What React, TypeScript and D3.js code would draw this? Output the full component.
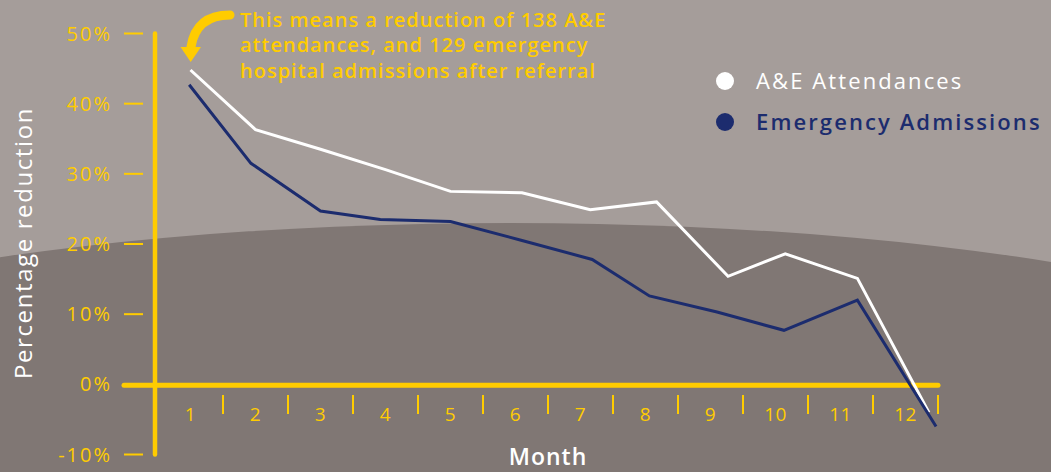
import React, { useEffect, useRef } from 'react';
import * as d3 from 'd3';

// months 1..12 on the x axis
const months = ['1', '2', '3', '4', '5', '6', '7', '8', '9', '10', '11', '12'];
const yTicks = [50, 40, 30, 20, 10, 0, -10];

// where each point sits along the month axis (points are not exactly centred)
const aeMonthPos = [1, 2, 3, 4, 5, 6.1, 7.15, 8.17, 9.27, 10.15, 11.26, 12.36];
const eaMonthPos = [0.98, 1.93, 3.0, 3.92, 5.0, 6.1, 7.18, 8.06, 9.1, 10.13, 11.26, 12.47];

// percentage reduction
const aeValues = [44.8, 36.3, 33.5, 30.6, 27.5, 27.3, 24.9, 26.0, 15.4, 18.6, 15.1, -4.0];
const eaValues = [42.7, 31.5, 24.7, 23.5, 23.2, 20.5, 17.8, 12.6, 10.3, 7.7, 12.0, -6.0];

const annotationLines = [
  'This means a reduction of 138 A&E',
  'attendances, and 129 emergency',
  'hospital admissions after referral',
];

const W = 1051;
const H = 472;
const YELLOW = '#FFCC00';
const NAVY = '#1C2C6E';
const BG_TOP = '#A59D9A';
const BG_BOTTOM = '#807774';
const FONT = '"Open Sans", "DejaVu Sans", sans-serif';

const App: React.FC = () => {
  const svgRef = useRef<SVGSVGElement>(null);

  useEffect(() => {
    document.body.style.margin = '0';
    if (!svgRef.current) return;

    const svg = d3.select(svgRef.current);
    svg.selectAll('*').remove();

    // background: light top, darker dome shape below
    svg.append('rect').attr('width', W).attr('height', H).attr('fill', BG_TOP);
    svg.append('ellipse')
      .attr('cx', 510).attr('cy', 417).attr('rx', 900).attr('ry', 194)
      .attr('fill', BG_BOTTOM);
    svg.append('rect').attr('x', 0).attr('y', 417).attr('width', W).attr('height', H - 417)
      .attr('fill', BG_BOTTOM);

    const band = d3.scaleBand().domain(months).range([158, 938]);
    const x = d3.scaleLinear().domain([1, 12]).range([
      (band('1') ?? 0) + band.bandwidth() / 2,
      (band('12') ?? 0) + band.bandwidth() / 2,
    ]);
    const y = d3.scaleLinear().domain([-10, 50]).range([454.5, 33.5]);

    const g = svg.append('g');

    // y tick dashes + labels
    yTicks.forEach(t => {
      if (t !== 0) {
        g.append('line')
          .attr('x1', 124).attr('x2', 143)
          .attr('y1', y(t)).attr('y2', y(t))
          .attr('stroke', YELLOW).attr('stroke-width', 2);
      }
      g.append('text')
        .attr('x', 112).attr('y', y(t))
        .attr('dy', '0.35em')
        .attr('text-anchor', 'end')
        .attr('fill', YELLOW)
        .attr('font-family', FONT)
        .attr('font-size', 20)
        .attr('letter-spacing', 2)
        .text(`${t}%`);
    });

    // axes
    g.append('line')
      .attr('x1', 155).attr('x2', 155)
      .attr('y1', y(50)).attr('y2', y(-10))
      .attr('stroke', YELLOW).attr('stroke-width', 4.5).attr('stroke-linecap', 'round');
    g.append('line')
      .attr('x1', 124).attr('x2', 938)
      .attr('y1', y(0) + 1).attr('y2', y(0) + 1)
      .attr('stroke', YELLOW).attr('stroke-width', 5).attr('stroke-linecap', 'round');

    // month separators + labels
    months.forEach(m => {
      const x0 = band(m) ?? 0;
      g.append('line')
        .attr('x1', x0 + band.bandwidth()).attr('x2', x0 + band.bandwidth())
        .attr('y1', 395).attr('y2', 414)
        .attr('stroke', YELLOW).attr('stroke-width', 2);
      g.append('text')
        .attr('x', x0 + band.bandwidth() / 2).attr('y', 421)
        .attr('text-anchor', 'middle')
        .attr('fill', YELLOW)
        .attr('font-family', FONT)
        .attr('font-size', 19)
        .attr('letter-spacing', 0.5)
        .text(m);
    });

    // series lines
    const line = d3.line<[number, number]>().x(d => x(d[0])).y(d => y(d[1]));
    const aePts = aeValues.map((v, i) => [aeMonthPos[i], v] as [number, number]);
    const eaPts = eaValues.map((v, i) => [eaMonthPos[i], v] as [number, number]);

    g.append('path')
      .attr('d', line(aePts))
      .attr('fill', 'none').attr('stroke', '#FFFFFF').attr('stroke-width', 3);
    g.append('path')
      .attr('d', line(eaPts))
      .attr('fill', 'none').attr('stroke', NAVY).attr('stroke-width', 3);

    // axis titles
    g.append('text')
      .attr('transform', 'translate(32,243) rotate(-90)')
      .attr('text-anchor', 'middle')
      .attr('fill', '#FFFFFF')
      .attr('font-family', FONT)
      .attr('font-size', 24)
      .attr('letter-spacing', 1.6)
      .text('Percentage reduction');
    g.append('text')
      .attr('x', 548).attr('y', 465)
      .attr('text-anchor', 'middle')
      .attr('fill', '#FFFFFF')
      .attr('font-family', FONT)
      .attr('font-size', 23)
      .attr('font-weight', 600)
      .attr('letter-spacing', 1)
      .text('Month');

    // legend
    const legend = [
      { label: 'A&E Attendances', color: '#FFFFFF', cy: 81, weight: 400 },
      { label: 'Emergency Admissions', color: NAVY, cy: 122, weight: 600 },
    ];
    legend.forEach(l => {
      g.append('circle').attr('cx', 725).attr('cy', l.cy).attr('r', 9).attr('fill', l.color);
      g.append('text')
        .attr('x', 756).attr('y', l.cy)
        .attr('dy', '0.36em')
        .attr('fill', l.color)
        .attr('font-family', FONT)
        .attr('font-size', 22)
        .attr('font-weight', l.weight)
        .attr('letter-spacing', 2.1)
        .text(l.label);
    });

    // annotation + curved arrow
    annotationLines.forEach((t, i) => {
      g.append('text')
        .attr('x', 240).attr('y', 26.7 + i * 25.5)
        .attr('fill', YELLOW)
        .attr('font-family', FONT)
        .attr('font-size', 20)
        .attr('font-weight', 600)
        .attr('letter-spacing', 1)
        .text(t);
    });
    g.append('path')
      .attr('d', 'M230,15 Q196,15 191,47')
      .attr('fill', 'none').attr('stroke', YELLOW).attr('stroke-width', 9)
      .attr('stroke-linecap', 'round');
    g.append('path')
      .attr('d', 'M180.5,47 L201,47 L190.7,62 Z')
      .attr('fill', YELLOW);
  }, []);

  return (
    <svg ref={svgRef} width={W} height={H} style={{ display: 'block' }} />
  );
};

export default App;
